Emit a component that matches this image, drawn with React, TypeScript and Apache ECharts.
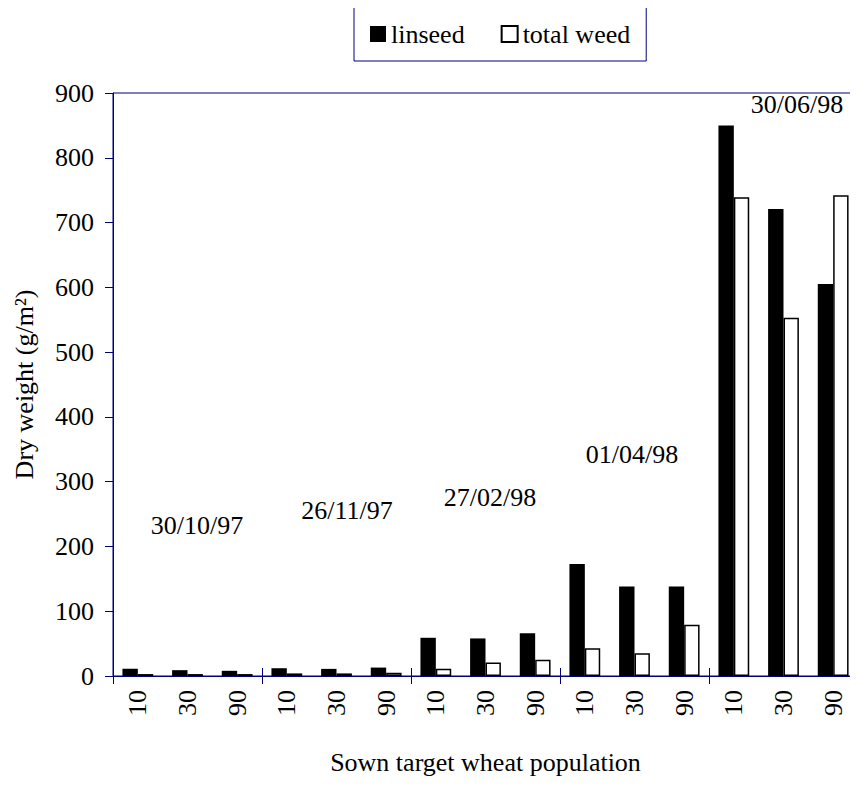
import React, { useEffect, useRef } from "react";
import * as echarts from "echarts";

const categories = ["10", "30", "90", "10", "30", "90", "10", "30", "90", "10", "30", "90", "10", "30", "90"];
const linseed = [11, 9, 8, 12, 11, 13, 59, 58, 66, 173, 138, 138, 850, 721, 605];
const totalWeed = [3, 3, 3, 4, 4, 5, 11, 21, 25, 43, 35, 79, 739, 553, 742];
const dateLabels = ["30/10/97", "26/11/97", "27/02/98", "01/04/98", "30/06/98"];
const dateLabelPos: [number, number][] = [
  [197, 525],
  [347, 510],
  [490, 497],
  [632, 454],
  [797, 104],
];
const yMin = 0;
const yMax = 900;
const yInterval = 100;

const FONT = "'Liberation Serif', 'Times New Roman', serif";
const NAVY = "#000080";

export default function App() {
  const ref = useRef<HTMLDivElement>(null);
  useEffect(() => {
    if (!ref.current) return;
    const chart = echarts.init(ref.current, null, { renderer: "svg" });
    chart.setOption({
      animation: false,
      backgroundColor: "#fff",
      textStyle: { fontFamily: FONT },
      legend: {
        left: 354,
        top: 7,
        padding: [14, 16, 14, 16],
        borderColor: NAVY,
        borderWidth: 1,
        itemWidth: 16,
        itemHeight: 16,
        itemGap: 36,
        icon: "rect",
        textStyle: { fontFamily: FONT, fontSize: 26, color: "#000" },
        data: ["linseed", "total weed"],
      },
      grid: {
        left: 113,
        top: 93,
        right: -7.5,
        bottom: 109,
        show: true,
        borderColor: NAVY,
        borderWidth: 1,
      },
      xAxis: [
        {
          type: "category",
          data: categories,
          position: "bottom",
          name: "Sown target wheat population",
          nameLocation: "middle",
          nameGap: 73,
          nameTextStyle: { fontFamily: FONT, fontSize: 26, color: "#000" },
          axisLine: { show: true, lineStyle: { color: NAVY, width: 1 } },
          axisTick: {
            show: true,
            length: 8,
            interval: (i: number) => i % 3 === 0,
            lineStyle: { color: NAVY },
          },
          axisLabel: {
            rotate: 90,
            margin: 14,
            interval: 0,
            fontFamily: FONT,
            fontSize: 26,
            color: "#000",
          },
          splitLine: { show: false },
        },
        {
          type: "category",
          data: categories,
          position: "bottom",
          axisLine: { show: false },
          axisTick: {
            show: true,
            inside: true,
            length: 8,
            interval: (i: number) => i % 3 === 0,
            lineStyle: { color: NAVY },
          },
          axisLabel: { show: false },
          splitLine: { show: false },
        },
      ],
      yAxis: {
        type: "value",
        min: yMin,
        max: yMax,
        interval: yInterval,
        name: "Dry weight (g/m²)",
        nameLocation: "middle",
        nameRotate: 90,
        nameGap: 76,
        nameTextStyle: { fontFamily: FONT, fontSize: 26, color: "#000" },
        axisLine: { show: true, lineStyle: { color: NAVY, width: 1 } },
        axisTick: { show: true, length: 8, lineStyle: { color: NAVY } },
        axisLabel: { margin: 19, fontFamily: FONT, fontSize: 26, color: "#000" },
        splitLine: { show: false },
      },
      series: [
        {
          name: "linseed",
          type: "bar",
          data: linseed,
          barGap: "0%",
          barCategoryGap: "38%",
          itemStyle: { color: "#000" },
        },
        {
          name: "total weed",
          type: "bar",
          data: totalWeed,
          barGap: "0%",
          barCategoryGap: "38%",
          itemStyle: { color: "#fff", borderColor: "#000", borderWidth: 1.5 },
        },
      ],
      graphic: dateLabels.map((t, i) => ({
        type: "text",
        x: dateLabelPos[i][0],
        y: dateLabelPos[i][1],
        style: {
          text: t,
          fontFamily: FONT,
          fontSize: 26,
          fill: "#000",
          textAlign: "center",
          textVerticalAlign: "middle",
        },
      })),
    });
    return () => chart.dispose();
  }, []);
  return <div ref={ref} style={{ width: 858, height: 785, margin: -8 }} />;
}
